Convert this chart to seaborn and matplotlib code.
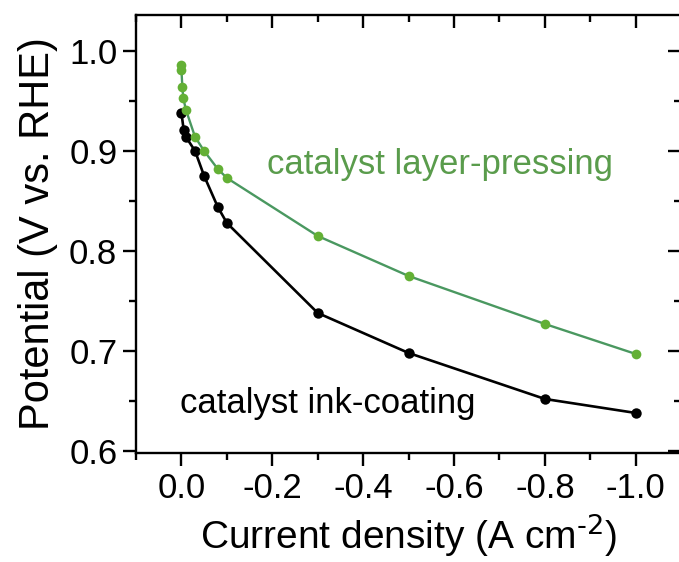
import matplotlib
matplotlib.use("Agg")
import matplotlib.pyplot as plt
from matplotlib.ticker import MultipleLocator, FormatStrFormatter
import seaborn as sns
import pandas as pd

# Polarization data: current density (A cm^-2) vs. potential (V vs. RHE)
ink_current = [0.0, -0.005, -0.01, -0.03, -0.05, -0.08, -0.1, -0.3, -0.5, -0.8, -1.0]
ink_potential = [0.938, 0.921, 0.914, 0.900, 0.875, 0.844, 0.828, 0.738, 0.698, 0.652, 0.638]

press_current = [0.0, 0.0, -0.002, -0.004, -0.01, -0.03, -0.05, -0.08, -0.1, -0.3, -0.5, -0.8, -1.0]
press_potential = [0.986, 0.981, 0.964, 0.953, 0.941, 0.914, 0.900, 0.882, 0.873, 0.815, 0.775, 0.727, 0.697]

x_ticks = [0.0, -0.2, -0.4, -0.6, -0.8, -1.0]
y_ticks = [0.6, 0.7, 0.8, 0.9, 1.0]

ink = pd.DataFrame({"j": ink_current, "E": ink_potential})
press = pd.DataFrame({"j": press_current, "E": press_potential})

sns.set_theme(style="ticks")
plt.rcParams["font.family"] = ["Liberation Sans", "DejaVu Sans"]
plt.rcParams["mathtext.default"] = "regular"

fig = plt.figure(figsize=(6.79, 5.62), dpi=100)
ax = fig.add_axes([0.2003, 0.194, 0.803, 0.7793])

sns.lineplot(data=ink, x="j", y="E", sort=False, estimator=None, ax=ax,
             color="black", linewidth=1.9, marker="o", markersize=7.5,
             markeredgewidth=0, markerfacecolor="black")
sns.lineplot(data=press, x="j", y="E", sort=False, estimator=None, ax=ax,
             color="#4a9860", linewidth=1.7, marker="o", markersize=7,
             markeredgewidth=0, markerfacecolor="#63b035")

ax.set_xlim(0.10, -1.10)
ax.set_ylim(0.598, 1.036)
ax.set_xticks(x_ticks)
ax.set_yticks(y_ticks)
ax.xaxis.set_minor_locator(MultipleLocator(0.1))
ax.yaxis.set_minor_locator(MultipleLocator(0.05))
ax.xaxis.set_major_formatter(FormatStrFormatter("%.1f"))
ax.yaxis.set_major_formatter(FormatStrFormatter("%.1f"))

for s in ax.spines.values():
    s.set_linewidth(1.7)
    s.set_color("black")

ax.tick_params(axis="both", which="major", labelsize=25, length=9.5,
               width=1.7, color="black", labelcolor="black", pad=4)
ax.tick_params(axis="both", which="minor", length=5, width=1.7, color="black")
ax.tick_params(axis="x", which="both", top=True, direction="out")
ax.tick_params(axis="y", which="both", right=True, direction="out")
# top and right ticks point into the frame
for t in ax.xaxis.get_ticklines(minor=False)[1::2] + ax.xaxis.get_ticklines(minor=True)[1::2]:
    t.set_marker(3)
for t in ax.yaxis.get_ticklines(minor=False)[1::2] + ax.yaxis.get_ticklines(minor=True)[1::2]:
    t.set_marker(0)

ax.set_xlabel(r"Current density (A cm$^{\text{-2}}$)", fontsize=28, labelpad=5,
              color="black")
ax.set_ylabel("Potential (V vs. RHE)", fontsize=30, labelpad=8,
              color="black")

ax.text(-0.188, 0.877, "catalyst layer-pressing", fontsize=25,
        color="#5a9c4c", ha="left", va="baseline")
ax.text(0.004, 0.638, "catalyst ink-coating", fontsize=25,
        color="black", ha="left", va="baseline")

fig.savefig("out.png", dpi=100, facecolor="white")
